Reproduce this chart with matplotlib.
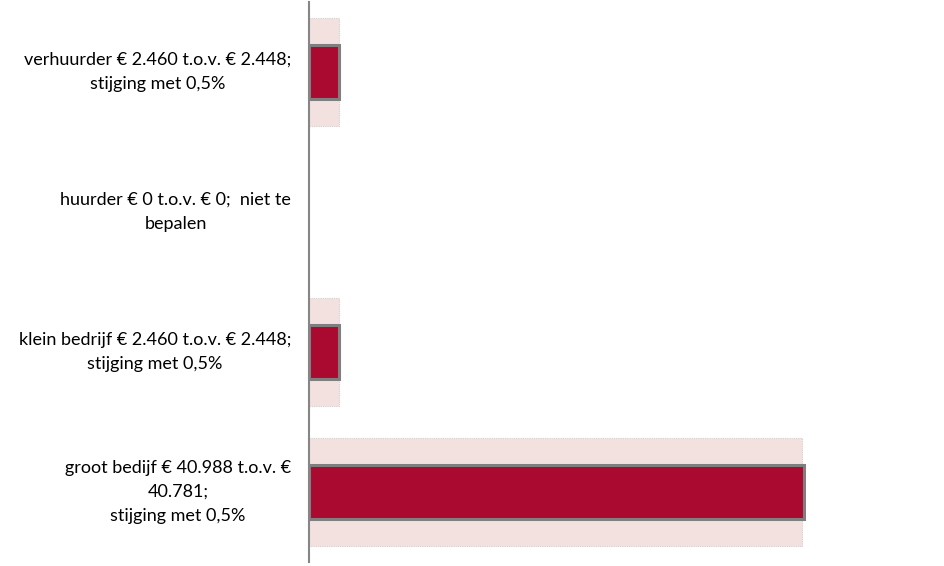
import matplotlib
matplotlib.use("Agg")
import matplotlib.pyplot as plt

categories = [
    "verhuurder € 2.460 t.o.v. € 2.448;\nstijging met 0,5%",
    "huurder € 0 t.o.v. € 0;  niet te\nbepalen",
    "klein bedrijf € 2.460 t.o.v. € 2.448;\nstijging met 0,5%",
    "groot bedijf € 40.988 t.o.v. €\n40.781;\nstijging met 0,5%",
]
previous_values = [2448, 0, 2448, 40781]
current_values = [2460, 0, 2460, 40988]

plt.rcParams['font.family'] = ['Lato', 'DejaVu Sans']

fig = plt.figure(figsize=(9.45, 5.66), dpi=100)
ax = fig.add_axes([309 / 945, 4 / 566, (913 - 309) / 945, 560 / 566])

ypos = list(range(len(categories)))
prev_ec = ["#D4D0D0" if v > 0 else "none" for v in previous_values]
cur_ec = ["#7F7F7F" if v > 0 else "none" for v in current_values]
ax.barh(ypos, previous_values, height=0.77, color="#F3E1E0",
        edgecolor=prev_ec, linewidth=0.8, linestyle=(0, (1, 1)), zorder=2)
ax.barh(ypos, current_values, height=0.39, color="#AB0A30",
        edgecolor=cur_ec, linewidth=2.2, zorder=3)

ax.set_xlim(0, 50000)
ax.set_ylim(len(categories) - 0.5, -0.5)
ax.set_yticks(ypos)
ax.set_yticklabels(categories, fontsize=13.0, multialignment="center",
                   linespacing=1.62, color="#000000", va="center")
ax.tick_params(axis="y", length=0, pad=13)
ax.set_xticks([])
for s in ["top", "right", "bottom"]:
    ax.spines[s].set_visible(False)
ax.spines["left"].set_color("#868686")
ax.spines["left"].set_linewidth(1.5)
ax.spines["left"].set_zorder(4)

fig.savefig("out.png", dpi=100)
